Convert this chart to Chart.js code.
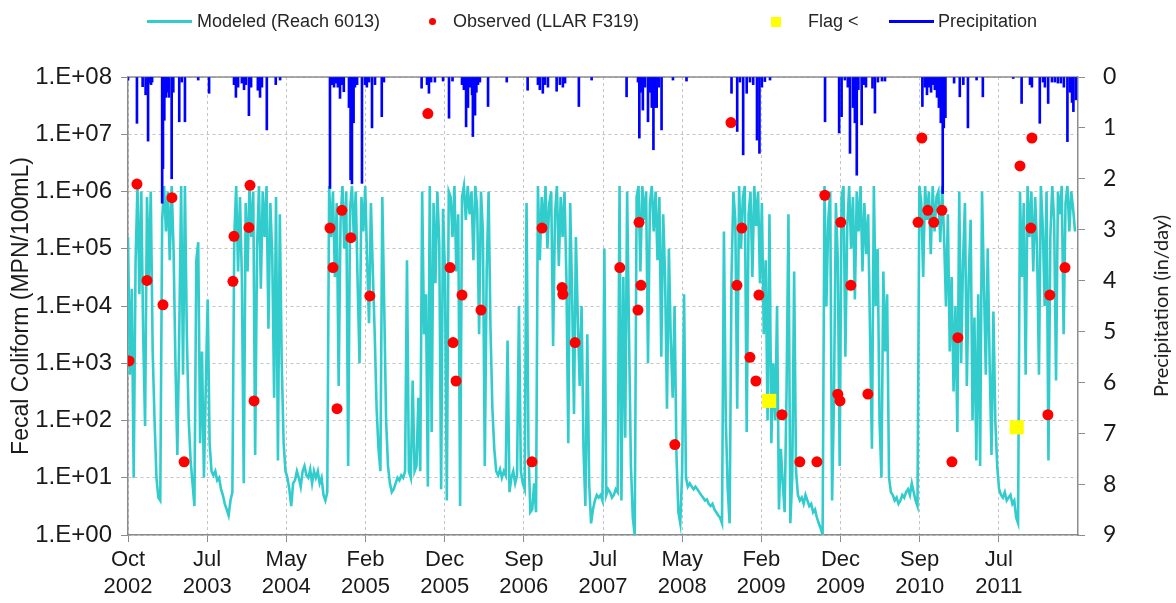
<!DOCTYPE html>
<html lang="en">
<head>
<meta charset="UTF-8">
<title>Fecal Coliform - Reach 6013</title>
<script src="https://cdn.jsdelivr.net/npm/chart.js"></script>
<style>
  body { margin: 0; background: #fff; }
  #wrap { position: relative; width: 1176px; height: 603px; }
  #legend .lt { position: absolute; top: 10px; font: 18px "Liberation Sans", Arial, sans-serif; line-height: 22px; color: #262626; white-space: nowrap; }
  #legend .sw { position: absolute; display: block; }
  #legend .line { top: 20px; height: 3px; }
  #legend .dot { top: 18px; width: 7px; height: 7px; border-radius: 50%; background: #FF0000; }
  #legend .sq { top: 17px; width: 10px; height: 10px; background: #FFFF00; }
  #y2title { position: absolute; left: 1160px; top: 306px; transform: translate(-50%, -50%) rotate(-90deg);
             font: 20px Lato, sans-serif; color: #1a1a1a; white-space: nowrap; }
</style>
</head>
<body>
<div id="wrap">
  <canvas id="chart" width="1176" height="603"></canvas>
  <div id="legend">
    <i class="sw line" style="left:147px;width:45px;background:#33CCCC"></i>
    <span class="lt" style="left:197px">Modeled (Reach 6013)</span>
    <i class="sw dot" style="left:429px"></i>
    <span class="lt" style="left:453px">Observed (LLAR F319)</span>
    <i class="sw sq" style="left:771px"></i>
    <span class="lt" style="left:808px">Flag &lt;</span>
    <i class="sw line" style="left:889px;width:45px;background:#0000FF"></i>
    <span class="lt" style="left:938px">Precipitation</span>
  </div>
  <div id="y2title">Precipitation (in/day)</div>
</div>

<script>
// x values are days since 1 Oct 2002
const xTickDays = [0, 292, 584, 876, 1168, 1460, 1752, 2044, 2336, 2628, 2920, 3212];
const xTickLabels = [['Oct', '2002'], ['Jul', '2003'], ['May', '2004'], ['Feb', '2005'], ['Dec', '2005'], ['Sep', '2006'],
                     ['Jul', '2007'], ['May', '2008'], ['Feb', '2009'], ['Dec', '2009'], ['Sep', '2010'], ['Jul', '2011']];
const yTickValues = [1, 10, 100, 1e3, 1e4, 1e5, 1e6, 1e7, 1e8];
const yTickLabels = ['1.E+00', '1.E+01', '1.E+02', '1.E+03', '1.E+04', '1.E+05', '1.E+06', '1.E+07', '1.E+08'];

// modeled fecal coliform (MPN/100mL), one value per week
const modeledStartDay = 0;
const modeledStepDays = 7;
const modeledValues = [
  1.6e5, 630, 2e4, 10, 6.3e4, 1.25e6, 1.6e4, 1e6, 3200, 80,
  8e5, 3.2e4, 1e6, 1600, 100, 10, 4.5, 4, 3.2e5, 1.25e6,
  2e5, 1e6, 6.3e4, 1.25e6, 1e5, 1000, 25, 3200, 1.25e6, 630,
  1.25e6, 3200, 100, 20, 8, 3.2, 6.3e4, 1.3e5, 40, 1600,
  10, 400, 1.3e4, 40, 13, 11, 13, 9, 10, 6.3,
  5, 3.5, 2.8, 2.2, 4, 5.6, 1.6e5, 1.25e6, 4e4, 8e5,
  3.2e4, 8, 6.3e5, 4e4, 1.25e6, 1.6e5, 1e6, 25, 1e5, 1.25e6,
  2e4, 1e6, 1.6e5, 1.25e6, 4000, 6.3e5, 8e4, 250, 8e5, 20,
  4e5, 1000, 40, 13, 10, 6.3, 3.2, 8, 9, 13,
  10, 7, 13, 16, 11, 10, 14, 8, 13, 10,
  13, 8, 10, 5, 4, 5.6, 1.25e6, 1.6e5, 1e6, 3.2e4,
  6.3e5, 400, 3.2e5, 1.25e6, 1e5, 1e6, 16, 5e5, 1.25e6, 1.6e5,
  1e6, 2.5e4, 1000, 8e5, 2e5, 1.25e6, 6.3e4, 5000, 6.3e5, 4e4,
  3200, 160, 32, 13, 8e5, 1e4, 100, 16, 8, 5.6,
  6.3, 8, 10, 9, 11, 10, 13, 6.3e4, 13, 10,
  500, 13, 16, 250, 13, 1e6, 3200, 1.6e4, 7, 1.25e6,
  63, 6.3e5, 2.5e4, 1e6, 1.3e5, 6.3, 5e5, 4e4, 4, 1e6,
  8e5, 1.6e5, 1.25e6, 4e4, 4e5, 3.2, 8e5, 1.25e6, 3.2e5, 1.25e6,
  4e5, 1e6, 6.3e4, 1.25e6, 5e5, 3200, 1e6, 2e5, 16, 4e4,
  1e6, 4000, 160, 32, 13, 11, 14, 10, 13, 11,
  2500, 5.6, 10, 13, 8, 11, 1e4, 13, 8, 6.3,
  6.3e5, 32, 2.5, 2.8, 8, 2.5, 1.25e6, 6.3e4, 8e5, 2e5,
  1.25e6, 1e5, 6.3e5, 1e6, 2000, 4e5, 1.25e6, 5e4, 8e5, 1.6e5,
  1e6, 3.2e4, 40, 6.3e5, 1.6e4, 130, 1.6e5, 6300, 400, 1e4,
  32, 3.2, 3200, 8, 1.6, 2.8, 4, 5, 4.5, 5,
  4, 1e5, 5, 6.3, 5.6, 4.5, 5, 6.3, 5.6, 1.25e6,
  4, 3.2e4, 50, 1e6, 3200, 16, 2, 1, 8e5, 1.25e6,
  4e4, 1.25e6, 3.2e5, 1e6, 1000, 6.3e5, 1.25e6, 2e5, 1e6, 6.3e4,
  8e5, 1300, 4e5, 3.2e4, 160, 1e5, 2500, 250, 1e4, 25,
  2.5, 1.6, 13, 1.6e4, 10, 7, 8, 7, 6.3, 7,
  6.3, 5.6, 5, 4.5, 4, 4.2, 3.5, 3.2, 3.5, 2.8,
  2.5, 2.2, 2, 1.6, 2e5, 100, 6.3, 1.6, 3.2e4, 1e6,
  3.2e5, 160, 1.25e6, 1e5, 8e5, 1.25e6, 63, 4e5, 1e6, 3.2e4,
  1.25e6, 2.5e5, 1e6, 2.5e4, 6.3e5, 3200, 6.3e4, 100, 4e5, 40,
  1000, 100, 1e4, 2.8, 32, 8, 2.5, 320, 4e5, 1.6,
  10, 4e4, 13, 5, 4, 4.5, 3.5, 5, 4, 3.2,
  3.5, 2.5, 2.8, 2, 1.6, 1.3, 1, 1.25e6, 1e4, 3.2e5,
  1e6, 4, 250, 6.3e5, 6.3e4, 16, 8e5, 1.25e6, 1300, 2.5e5,
  1.25e6, 1e5, 8e5, 1.3e4, 1e6, 2e5, 1.25e6, 4e4, 6.3e5, 8e4,
  4e5, 3200, 32, 1.25e6, 1e4, 1e5, 100, 10, 4e4, 1600,
  1.6e4, 10, 5.6, 5, 4, 4.5, 3.5, 4, 5, 4.5,
  5.6, 6.3, 5, 8, 5.6, 4, 3.2, 1.25e6, 6.3e5, 3.2e4,
  1.25e6, 3.2e5, 1e6, 8e4, 1.25e6, 2e5, 8e5, 1e6, 1.3e5, 1.25e6,
  1.6e5, 1e4, 4e5, 1600, 3.2e4, 320, 1e4, 63, 1e6, 1000,
  6.3e4, 6.3e5, 400, 3.2e4, 3.2e5, 100, 6300, 20, 1.6e4, 16,
  1e6, 2.5e4, 630, 1e5, 1000, 25, 8000, 100, 16, 6.3,
  5, 4.5, 5.6, 4, 4.5, 5, 3.5, 4, 2, 1.6,
  1e6, 3.2e4, 6.3e5, 630, 1.25e6, 1.6e5, 1e6, 4e4, 8e5, 1e5,
  630, 1.25e6, 2.5e5, 1e4, 1e6, 20, 1.6e5, 1.25e6, 3.2e5, 500,
  1e6, 4e5, 1.25e6, 3200, 6.3e5, 1.25e6, 2e5, 1e6, 5e5, 2e5
];

// observed samples (LLAR F319)
const obsDays = [4, 33, 70, 129, 162, 207, 387, 391, 446, 450, 465, 745, 756, 771, 789, 822, 892,
  1106, 1188, 1199, 1210, 1232, 1302, 1490, 1527, 1601, 1604, 1649, 1814, 1881, 1885, 1892, 2017,
  2224, 2246, 2264, 2294, 2316, 2327, 2412, 2478, 2541, 2570, 2618, 2626, 2629, 2666, 2729,
  2914, 2928, 2950, 2972, 3002, 3039, 3061, 3290, 3330, 3334, 3393, 3400, 3456];
const obsValues = [1100, 1.35e6, 2.8e4, 1.05e4, 7.8e5, 19, 2.7e4, 1.65e5, 2.36e5, 1.28e6, 220, 2.3e5, 4.7e4, 161, 4.7e5, 1.56e5, 1.5e4,
  2.3e7, 4.7e4, 2300, 490, 1.55e4, 8500, 19, 2.3e5, 2.1e4, 1.6e4, 2300, 4.7e4, 8500, 2.9e5, 2.3e4, 38,
  1.6e7, 2.3e4, 2.3e5, 1270, 490, 1.55e4, 126, 19, 19, 8.6e5, 288, 220, 2.9e5, 2.3e4, 290,
  2.9e5, 8.6e6, 4.7e5, 2.9e5, 4.7e5, 19, 2800, 2.8e6, 2.3e5, 8.6e6, 126, 1.55e4, 4.7e4];

// samples flagged "<"
const flagDays = [2365, 3278];
const flagValues = [220, 76];

// daily precipitation (in/day), rain days only
const precipDays = [0, 33, 54, 65, 74, 81, 85, 89, 126, 129,
  134, 140, 146, 151, 161, 167, 189, 198, 210, 259,
  299, 391, 398, 406, 420, 428, 435, 446, 454, 479,
  487, 494, 512, 545, 561, 745, 752, 760, 767, 774,
  782, 789, 796, 815, 821, 826, 832, 837, 845, 863,
  874, 881, 889, 900, 911, 936, 944, 1083, 1103, 1110,
  1118, 1132, 1162, 1184, 1197, 1232, 1239, 1247, 1254, 1261,
  1269, 1272, 1280, 1285, 1291, 1298, 1328, 1397, 1474, 1512,
  1519, 1530, 1538, 1549, 1581, 1593, 1604, 1612, 1663, 1710,
  1839, 1881, 1886, 1892, 1899, 1907, 1918, 1925, 1932, 1938,
  1944, 1950, 1958, 1968, 2010, 2060, 2226, 2247, 2257, 2269,
  2282, 2294, 2306, 2320, 2329, 2338, 2349, 2368, 2571, 2623,
  2632, 2644, 2655, 2663, 2674, 2681, 2688, 2694, 2706, 2714,
  2722, 2746, 2755, 2766, 2781, 2792, 2930, 2939, 2947, 2954,
  2962, 2969, 2976, 2984, 2991, 2998, 3005, 3009, 3015, 3047,
  3068, 3081, 3098, 3130, 3153, 3265, 3296, 3327, 3334, 3363,
  3375, 3382, 3394, 3408, 3419, 3430, 3441, 3452, 3465, 3474,
  3482, 3487, 3496];
const precipValues = [0.06, 0.91, 0.19, 0.35, 1.26, 0.12, 0.15, 0.1, 2.48, 1.8,
  0.85, 0.4, 0.3, 0.4, 2.0, 0.3, 0.88, 0.1, 0.88, 0.06,
  0.32, 0.15, 0.4, 0.2, 0.12, 0.25, 0.15, 0.76, 0.2, 0.26,
  0.4, 0.2, 1.04, 0.15, 0.06, 2.19, 0.15, 0.2, 0.12, 0.2,
  0.42, 0.15, 0.29, 0.6, 2.02, 2.1, 0.9, 0.2, 0.15, 2.09,
  0.15, 0.2, 0.1, 1.0, 0.15, 0.78, 0.1, 0.22, 0.15, 0.32,
  0.1, 0.1, 0.08, 0.81, 0.08, 0.15, 0.25, 0.98, 0.6, 0.2,
  0.35, 1.17, 0.75, 0.3, 0.15, 0.1, 0.58, 0.1, 0.26, 0.15,
  0.25, 0.32, 0.15, 0.2, 0.28, 0.15, 0.2, 0.12, 0.58, 0.06,
  0.39, 0.1, 1.2, 0.3, 0.65, 0.2, 0.88, 0.3, 0.6, 1.43,
  0.6, 0.6, 0.2, 1.04, 0.06, 0.08, 0.32, 1.07, 0.1, 1.53,
  0.32, 0.1, 0.15, 1.24, 1.5, 0.2, 0.09, 0.06, 0.88, 1.1,
  0.78, 0.06, 0.2, 1.5, 0.6, 0.9, 1.93, 0.25, 0.94, 0.15,
  0.2, 0.22, 0.71, 0.1, 0.08, 0.08, 0.58, 0.2, 0.35, 0.2,
  0.3, 0.15, 0.25, 0.4, 0.6, 0.9, 2.29, 1.0, 0.8, 0.12,
  0.39, 0.15, 1.0, 0.06, 0.39, 0.03, 0.52, 0.15, 0.2, 0.91,
  0.1, 0.2, 0.52, 0.1, 0.1, 0.12, 0.12, 0.2, 1.27, 0.3,
  0.5, 0.68, 0.45];

const axisGray = '#8c8c8c';
const gridGray = '#c4c4c4';
const textColor = '#1a1a1a';

// gray frame line along the top of the plot area
const topBorder = {
  id: 'topBorder',
  beforeDatasetsDraw(chart) {
    const a = chart.chartArea, ctx = chart.ctx;
    ctx.save();
    ctx.strokeStyle = axisGray;
    ctx.lineWidth = 1.5;
    ctx.beginPath();
    ctx.moveTo(a.left, a.top);
    ctx.lineTo(a.right, a.top);
    ctx.stroke();
    ctx.restore();
  }
};

new Chart(document.getElementById('chart'), {
  type: 'line',
  data: {
    datasets: [
      {
        type: 'scatter', label: 'Observed (LLAR F319)', yAxisID: 'y',
        data: obsDays.map((d, i) => ({ x: d, y: obsValues[i] })),
        backgroundColor: '#FF0000', borderWidth: 0, pointRadius: 5.5, order: 1
      },
      {
        type: 'scatter', label: 'Flag <', yAxisID: 'y',
        data: flagDays.map((d, i) => ({ x: d, y: flagValues[i] })),
        pointStyle: 'rect', backgroundColor: '#FFFF00', borderWidth: 0, pointRadius: 10, order: 2
      },
      {
        type: 'bar', label: 'Precipitation', yAxisID: 'y2',
        data: precipDays.map((d, i) => ({ x: d, y: precipValues[i] })),
        backgroundColor: '#0000FF', barThickness: 2, order: 3
      },
      {
        type: 'line', label: 'Modeled (Reach 6013)', yAxisID: 'y',
        data: modeledValues.map((v, i) => ({ x: modeledStartDay + i * modeledStepDays, y: v })),
        borderColor: '#33CCCC', borderWidth: 2.6, pointRadius: 0, tension: 0, fill: false, order: 4
      }
    ]
  },
  options: {
    responsive: false,
    animation: false,
    events: [],
    layout: { padding: { top: 77, left: 0, right: 0, bottom: 0 } },
    plugins: { legend: { display: false }, tooltip: { enabled: false } },
    scales: {
      x: {
        type: 'linear', min: 0, max: 3504, offset: false,
        afterBuildTicks: s => { s.ticks = xTickDays.map(v => ({ value: v })); },
        afterFit: s => { s.height = 68; },
        ticks: {
          autoSkip: false, maxRotation: 0, padding: 5, color: textColor,
          font: { family: 'Liberation Sans', size: 22 },
          callback: (v, i) => xTickLabels[i]
        },
        grid: { offset: false, color: gridGray, tickColor: axisGray, tickLength: 7, lineWidth: 1 },
        border: { color: axisGray, width: 1.5, dash: [3, 3] }
      },
      y: {
        type: 'logarithmic', position: 'left', min: 1, max: 1e8,
        afterBuildTicks: s => { s.ticks = yTickValues.map(v => ({ value: v })); },
        afterFit: s => { s.width = 128; },
        ticks: {
          autoSkip: false, padding: 9, color: textColor,
          font: { family: 'Liberation Sans', size: 24 },
          callback: (v, i) => yTickLabels[i]
        },
        grid: { color: gridGray, tickColor: axisGray, tickLength: 7, lineWidth: 1 },
        border: { color: axisGray, width: 1.5, dash: [3, 3] },
        title: {
          display: true, text: 'Fecal Coliform (MPN/100mL)', color: textColor,
          font: { family: 'Liberation Sans', size: 23 }, padding: { top: 8, bottom: 0 }
        }
      },
      y2: {
        type: 'linear', position: 'right', min: 0, max: 9, reverse: true,
        afterFit: s => { s.width = 98; },
        ticks: { stepSize: 1, padding: 18, color: textColor, font: { family: 'Lato', size: 23 } },
        grid: { drawOnChartArea: false, tickColor: axisGray, tickLength: 7 },
        border: { color: axisGray, width: 1.5 }
      }
    }
  },
  plugins: [topBorder]
});
</script>
</body>
</html>
